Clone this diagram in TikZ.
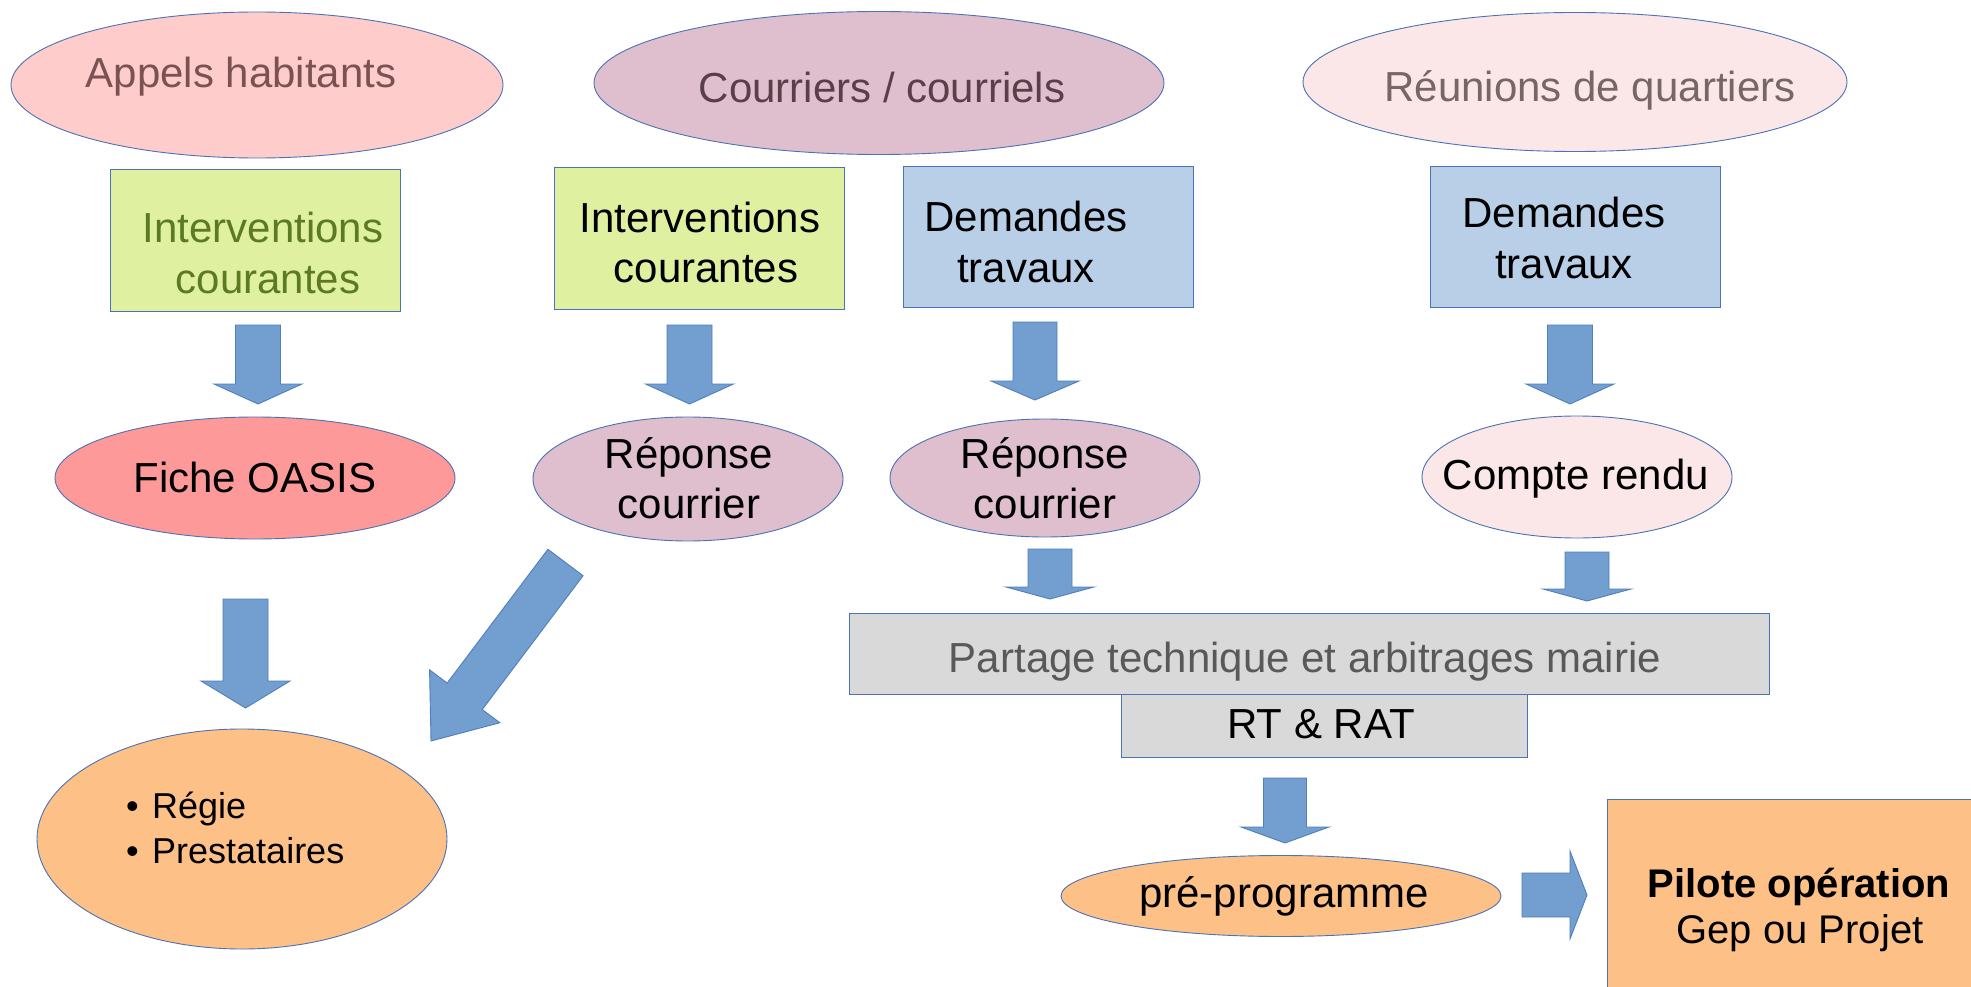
\documentclass[tikz,border=0pt]{standalone}
\usepackage{fontspec}
\setmainfont{Liberation Sans}
\usetikzlibrary{calc,shapes.geometric}
\definecolor{edgeC}{HTML}{4A72B5}
\definecolor{arrFill}{HTML}{729FCF}
\definecolor{arrEdge}{HTML}{4F7FBC}
\definecolor{pinkA}{HTML}{FFCCCC}
\definecolor{mauveC}{HTML}{DFBFCD}
\definecolor{palePink}{HTML}{FBE6E8}
\definecolor{limeC}{HTML}{DFF0A0}
\definecolor{lblueC}{HTML}{B9CFE7}
\definecolor{salmonC}{HTML}{FE9999}
\definecolor{orangeL}{HTML}{FDC187}
\definecolor{greyB}{HTML}{D9D9D9}
\definecolor{brownT}{HTML}{7B5252}
\definecolor{plumT}{HTML}{5A3F4B}
\definecolor{greyT}{HTML}{766666}
\definecolor{oliveT}{HTML}{5C7A21}
\definecolor{darkGreyT}{HTML}{595959}
\newcommand{\myblockarrow}[5]{%
  \coordinate (hd) at ($(#2)!#5!(#1)$);
  \filldraw[barrow] ($(#1)!#3!90:(#2)$) -- ($(hd)!#3!90:(#2)$) -- ($(hd)!#4!90:(#2)$) -- (#2)
    -- ($(hd)!#4!-90:(#2)$) -- ($(hd)!#3!-90:(#2)$) -- ($(#1)!#3!-90:(#2)$) -- cycle;}
\tikzset{
  shp/.style={draw=edgeC, line width=0.9pt, inner sep=0pt},
  ell/.style={shp, ellipse},
  box/.style={shp, rectangle},
  barrow/.style={fill=arrFill, draw=arrEdge, line width=0.9pt, line join=miter},
  txt/.style={inner sep=0pt, anchor=base, font=\fontsize{42}{50}\selectfont},
}
\begin{document}
\begin{tikzpicture}[x=1pt,y=-1pt]
\useasboundingbox[fill=white] (0,0) rectangle (1971,987);

% top row ellipses
\node[ell, fill=pinkA, minimum width=492pt, minimum height=146pt] (appels) at (257,85) {};
\node[txt, text=brownT] (tappels) at (241,88) {Appels habitants};
\node[ell, fill=mauveC, minimum width=570pt, minimum height=143pt] (courriers) at (879,83) {};
\node[txt, text=plumT] (tcourriers) at (882,103) {Courriers / courriels};
\node[ell, fill=palePink, minimum width=544pt, minimum height=139pt] (reunions) at (1575,82) {};
\node[txt, text=greyT] (treunions) at (1590,102) {Réunions de quartiers};

% boxes
\node[box, fill=limeC, minimum width=290pt, minimum height=142pt] (int1) at (255,240) {};
\node[txt, text=oliveT] (tint1a) at (263,243) {Interventions};
\node[txt, text=oliveT] (tint1b) at (268,293) {courantes};
\node[box, fill=limeC, minimum width=290pt, minimum height=142pt] (int2) at (699,238) {};
\node[txt] (tint2a) at (700,233) {Interventions};
\node[txt] (tint2b) at (706,283) {courantes};
\node[box, fill=lblueC, minimum width=290pt, minimum height=141pt] (dem1) at (1048,236.5) {};
\node[txt] (tdem1a) at (1026,232) {Demandes};
\node[txt] (tdem1b) at (1026,283) {travaux};
\node[box, fill=lblueC, minimum width=290pt, minimum height=141pt] (dem2) at (1575,236.5) {};
\node[txt] (tdem2a) at (1564,228) {Demandes};
\node[txt] (tdem2b) at (1564,278) {travaux};

% second row ellipses
\node[ell, fill=salmonC, minimum width=400pt, minimum height=122pt] (oasis) at (255,478) {};
\node[txt] (toasis) at (255,492) {Fiche OASIS};
\node[ell, fill=mauveC, minimum width=310pt, minimum height=124pt] (rep1) at (688,479) {};
\node[txt] (trep1a) at (689,468) {Réponse};
\node[txt] (trep1b) at (689,518) {courrier};
\node[ell, fill=mauveC, minimum width=310pt, minimum height=118pt] (rep2) at (1045,478) {};
\node[txt] (trep2a) at (1045,468) {Réponse};
\node[txt] (trep2b) at (1045,518) {courrier};
\node[ell, fill=palePink, minimum width=310pt, minimum height=122pt] (compte) at (1577,477) {};
\node[txt] (tcompte) at (1576,489) {Compte rendu};

% grey boxes
\node[box, fill=greyB, minimum width=920pt, minimum height=81pt] (partage) at (1309,653.5) {};
\node[txt, text=darkGreyT] (tpartage) at (1305,672) {Partage technique et arbitrages mairie};
\node[box, fill=greyB, minimum width=406pt, minimum height=63pt] (rt) at (1324,725.5) {};
\node[txt] (trt) at (1321,738) {RT \& RAT};

% bottom
\node[ell, fill=orangeL, minimum width=410pt, minimum height=220pt] (regie) at (242,839) {};
\node[txt, anchor=base west, font=\fontsize{36}{44}\selectfont] (bul1) at (126,818) {•};
\node[txt, anchor=base west, font=\fontsize{36}{44}\selectfont] (tregie) at (152,818) {Régie};
\node[txt, anchor=base west, font=\fontsize{36}{44}\selectfont] (bul2) at (126,863) {•};
\node[txt, anchor=base west, font=\fontsize{36}{44}\selectfont] (tprest) at (152,863) {Prestataires};

\node[ell, fill=orangeL, minimum width=440pt, minimum height=81pt] (prepro) at (1281,896) {};
\node[txt] (tprepro) at (1284,907) {pré-programme};

\node[box, fill=orangeL, minimum width=400pt, minimum height=220pt, anchor=north west] (pilote) at (1607,799) {};
\node[txt, font=\fontsize{40}{46}\selectfont\bfseries] (tpilote) at (1799,897) {Pilote opération};
\node[txt, font=\fontsize{40}{46}\selectfont] (tgep) at (1800,943) {Gep ou Projet};

% block arrows
\coordinate (a1s) at (258,325);   \coordinate (a1e) at (258,404);
\coordinate (a2s) at (689.5,325); \coordinate (a2e) at (689.5,404);
\coordinate (a3s) at (1035,322);  \coordinate (a3e) at (1035,400);
\coordinate (a4s) at (1570,325);  \coordinate (a4e) at (1570,404);
\myblockarrow{a1s}{a1e}{22.5pt}{44pt}{20pt}
\myblockarrow{a2s}{a2e}{22.5pt}{44pt}{20pt}
\myblockarrow{a3s}{a3e}{22pt}{44pt}{19pt}
\myblockarrow{a4s}{a4e}{22.5pt}{44pt}{20pt}

\coordinate (b1s) at (245.5,599); \coordinate (b1e) at (245.5,708);
\myblockarrow{b1s}{b1e}{22.5pt}{44.5pt}{27pt}
\coordinate (b2s) at (565.5,562.5); \coordinate (b2e) at (431,741);
\myblockarrow{b2s}{b2e}{22pt}{44pt}{56pt}

\coordinate (c1s) at (1050,549); \coordinate (c1e) at (1050,599);
\coordinate (c2s) at (1587,552); \coordinate (c2e) at (1587,601);
\myblockarrow{c1s}{c1e}{22pt}{44pt}{12pt}
\myblockarrow{c2s}{c2e}{22pt}{44pt}{12pt}

\coordinate (d1s) at (1285,778); \coordinate (d1e) at (1285,843);
\myblockarrow{d1s}{d1e}{21.5pt}{44pt}{16pt}

\coordinate (e1s) at (1522,895); \coordinate (e1e) at (1587,895);
\myblockarrow{e1s}{e1e}{22pt}{44pt}{17pt}
\end{tikzpicture}
\end{document}
